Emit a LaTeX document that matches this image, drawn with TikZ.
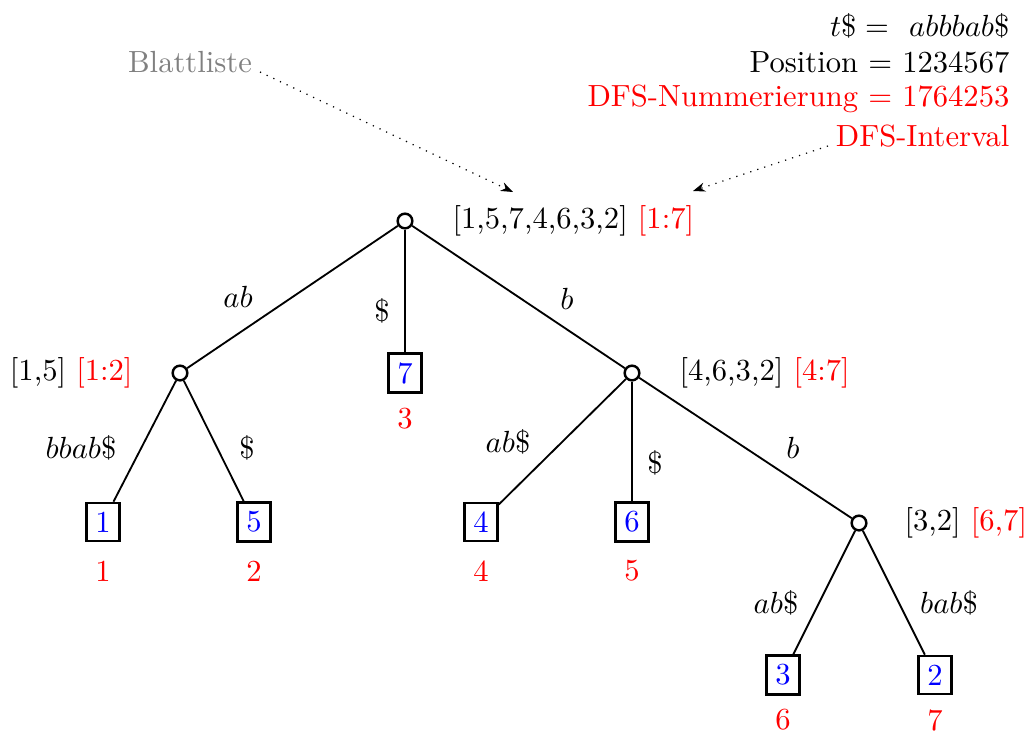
\documentclass[tikz,border=0pt]{standalone}
\usetikzlibrary{arrows.meta}
\begin{document}
\begin{tikzpicture}[x=0.3268pt,y=-0.3268pt,
  inner/.style={circle,draw,thick,fill=white,minimum size=4.8pt,inner sep=0pt},
  leaf/.style={draw,thick,text=blue,inner sep=2.9pt},
  dfs/.style={text=red,inner sep=0pt},
  lab/.style={inner sep=0pt},
  edge/.style={semithick},
  hint/.style={dotted,-{Stealth[length=4pt,width=3pt]}}]
\useasboundingbox (0,0) rectangle (1031,733);
% tree nodes
\node[inner] (r) at (405,221) {};
\node[inner] (a) at (180,373) {};
\node[inner] (b) at (632,373) {};
\node[inner] (bb) at (859,523) {};
\node[leaf] (l7) at (405,373) {7};
\node[leaf] (l1) at (103,522) {1};
\node[leaf] (l5) at (254,522) {5};
\node[leaf] (l4) at (481,522) {4};
\node[leaf] (l6) at (632,522) {6};
\node[leaf] (l3) at (783,675) {3};
\node[leaf] (l2) at (935,675) {2};
% DFS numbers
\node[dfs] (d7) at (405,419) {3};
\node[dfs] (d1) at (103,571) {1};
\node[dfs] (d5) at (254,571) {2};
\node[dfs] (d4) at (481,571) {4};
\node[dfs] (d6) at (632,571) {5};
\node[dfs] (d3) at (783,720) {6};
\node[dfs] (d2) at (935,720) {7};
% node labels
\node[lab,anchor=west] (rl) at (452,221) {[1,5,7,4,6,3,2] \textcolor{red}{[1:7]}};
\node[lab,anchor=east] (al) at (133,373) {[1,5] \textcolor{red}{[1:2]}};
\node[lab,anchor=west] (bl) at (679,373) {[4,6,3,2] \textcolor{red}{[4:7]}};
\node[lab,anchor=west] (bbl) at (904,523) {[3,2] \textcolor{red}{[6,7]}};
% edges
\draw[edge] (r) -- (a);
\draw[edge] (r) -- (l7);
\draw[edge] (r) -- (b);
\draw[edge] (a) -- (l1);
\draw[edge] (a) -- (l5);
\draw[edge] (b) -- (l4);
\draw[edge] (b) -- (l6);
\draw[edge] (b) -- (bb);
\draw[edge] (bb) -- (l3);
\draw[edge] (bb) -- (l2);
% edge labels
\node[lab] (e1) at (238,297) {$ab$};
\node[lab] (e2) at (382,311) {$\$$};
\node[lab] (e3) at (567,299) {$b$};
\node[lab] (e4) at (81,448) {$bbab\$$};
\node[lab] (e5) at (247,448) {$\$$};
\node[lab] (e6) at (508,442) {$ab\$$};
\node[lab] (e7) at (655,463) {$\$$};
\node[lab] (e8) at (793,448) {$b$};
\node[lab] (e9) at (776,603) {$ab\$$};
\node[lab] (e10) at (949,603) {$bab\$$};
% header
\node[lab,anchor=east] (h1) at (1010,26) {$t\$ =$ \ $abbbab\$$};
\node[lab,anchor=east] (h2) at (1010,62) {Position $=$ 1234567};
\node[lab,anchor=east,text=red] (h3) at (1010,99) {DFS-Nummerierung $=$ 1764253};
\node[lab,anchor=east,text=red] (h4) at (1010,136) {DFS-Interval};
\node[lab,text=gray] (bl0) at (190,62) {Blattliste};
\coordinate (t1) at (513,192);
\coordinate (t2) at (693,191);
\coordinate (s1) at (260,72);
\coordinate (s2) at (828,146);
\draw[hint] (s1) -- (t1);
\draw[hint] (s2) -- (t2);
\end{tikzpicture}
\end{document}
